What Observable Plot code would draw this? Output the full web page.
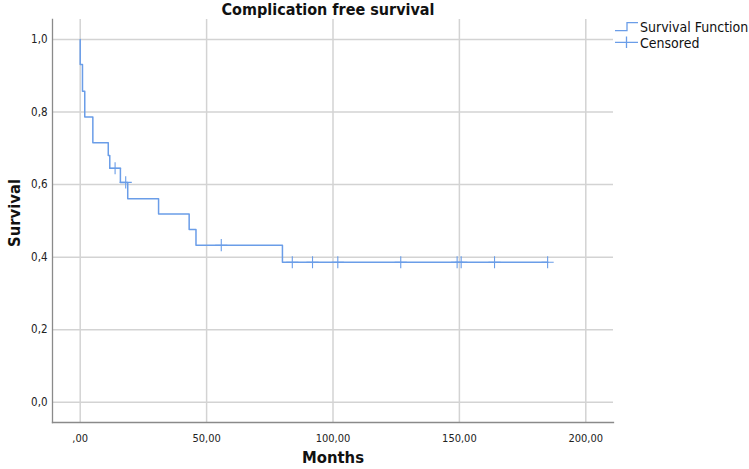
<!DOCTYPE html>
<html>
<head>
<meta charset="utf-8">
<script src="https://cdn.jsdelivr.net/npm/d3@7"></script>
<script src="https://cdn.jsdelivr.net/npm/@observablehq/plot@0.6"></script>
<style>
  html, body { margin: 0; padding: 0; background: #fff; }
  #chart svg { display: block; }
</style>
</head>
<body>
<div id="chart"></div>
<script>
// Kaplan-Meier step data (months, survival after the event)
const stepTimes = [0, 0, 0.9, 1.8, 5.0, 11.1, 11.7, 15.9, 18.8, 31.0, 43.1, 45.8, 80.0, 185.0];
const stepSurv  = [1.0, 0.931, 0.857, 0.786, 0.715, 0.680, 0.645, 0.606, 0.561, 0.519, 0.476, 0.433, 0.386, 0.386];

// Censored observations
const censorTimes = [13.8, 18.0, 55.8, 83.9, 91.9, 101.9, 126.8, 149.1, 150.7, 163.9, 184.9];
const censorSurv  = [0.645, 0.606, 0.433, 0.386, 0.386, 0.386, 0.386, 0.386, 0.386, 0.386, 0.386];

const xTicks = [0, 50, 100, 150, 200];
const xTickLabels = [",00", "50,00", "100,00", "150,00", "200,00"];
const yTicks = [0, 0.2, 0.4, 0.6, 0.8, 1.0];
const yTickLabels = ["0,0", "0,2", "0,4", "0,6", "0,8", "1,0"];

const title = "Complication free survival";
const xLabel = "Months";
const yLabel = "Survival";
const legendItems = ["Survival Function", "Censored"];

const steps = stepTimes.map((t, i) => ({t, s: stepSurv[i]}));
const censored = censorTimes.map((t, i) => ({t, s: censorSurv[i]}));

const blue = "#6a9de8";
const grid = "#d3d3d3";
const axisCol = "#8a8a8a";
const font = "'DejaVu Sans Condensed', 'DejaVu Sans', sans-serif";

const chart = Plot.plot({
  width: 749,
  height: 469,
  marginLeft: 52,
  marginRight: 136,
  marginTop: 19,
  marginBottom: 47,
  style: {fontFamily: font, background: "#fff", overflow: "visible"},
  x: {domain: [-10.96, 210.96]},
  y: {domain: [-0.0557, 1.055]},
  marks: [
    Plot.ruleX(xTicks, {stroke: grid, strokeWidth: 1.5}),
    Plot.ruleY(yTicks, {stroke: grid, strokeWidth: 1.5}),
    Plot.axisX(xTicks, {tickSize: 0, tickPadding: 12, fontSize: 11, fill: "#222",
      tickFormat: (d) => xTickLabels[xTicks.indexOf(d)], label: null}),
    Plot.axisY(yTicks, {tickSize: 0, tickPadding: 5, fontSize: 11.5, fill: "#222",
      tickFormat: (d) => yTickLabels[yTicks.indexOf(d)], label: null}),
    Plot.frame({anchor: "left", stroke: axisCol, strokeWidth: 1.3}),
    Plot.frame({anchor: "bottom", stroke: axisCol, strokeWidth: 1.3}),
    Plot.line(steps, {x: "t", y: "s", curve: "step-after", stroke: blue, strokeWidth: 1.5}),
    Plot.dot(censored, {x: "t", y: "s", symbol: "plus", r: 4, stroke: blue, strokeWidth: 1.1}),
    Plot.text([title], {frameAnchor: "top", dy: -16, dx: -5, fontSize: 16, fontWeight: "bold", fill: "#111"}),
    Plot.text([xLabel], {frameAnchor: "bottom", dy: 40, fontSize: 16.5, fontWeight: "bold", fill: "#111"}),
    Plot.text([yLabel], {frameAnchor: "left", textAnchor: "middle", dx: -38, dy: -8, rotate: -90, fontSize: 16.5, fontWeight: "bold", fill: "#111"})
  ]
});

// legend (drawn on the same svg)
const svg = d3.select(chart);
const lg = svg.append("g").attr("font-family", font).attr("font-size", 14).attr("fill", "#111").attr("text-anchor", "start");
lg.append("path").attr("d", "M615,30.7H627V22.7H638").attr("fill", "none").attr("stroke", blue).attr("stroke-width", 1.3);
lg.append("text").attr("x", 640).attr("y", 27).attr("dy", "0.35em").text(legendItems[0]);
lg.append("path").attr("d", "M615,42.3H638M626.5,36.5V48").attr("fill", "none").attr("stroke", blue).attr("stroke-width", 1.3);
lg.append("text").attr("x", 640).attr("y", 43.5).attr("dy", "0.35em").text(legendItems[1]);

document.getElementById("chart").appendChild(chart);
</script>
</body>
</html>
